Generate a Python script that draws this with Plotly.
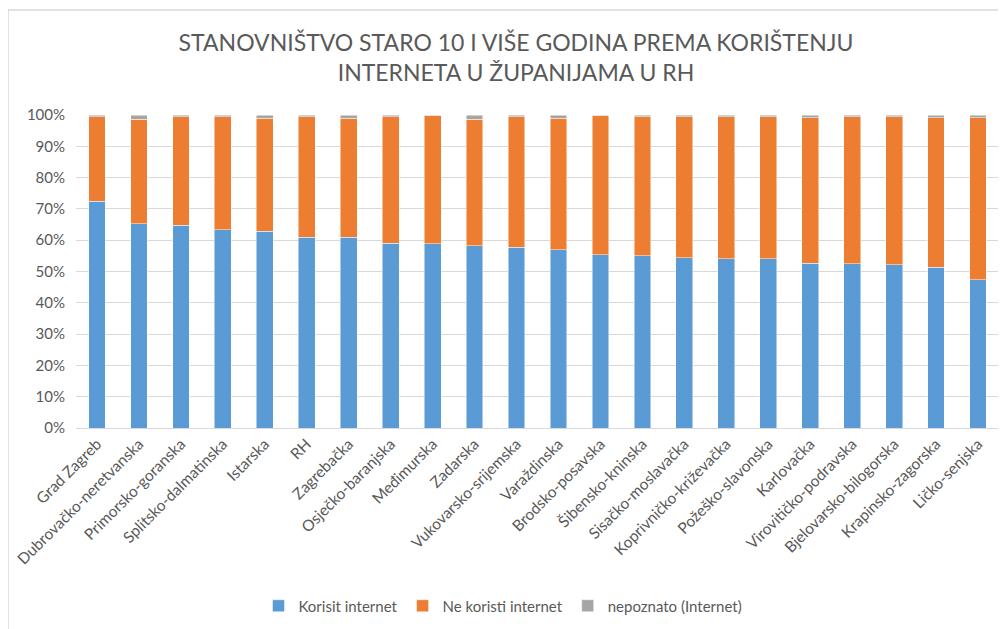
import plotly.graph_objects as go

categories = ["Grad Zagreb", "Dubrovačko-neretvanska", "Primorsko-goranska", "Splitsko-dalmatinska",
              "Istarska", "RH", "Zagrebačka", "Osječko-baranjska", "Međimurska", "Zadarska",
              "Vukovarsko-srijemska", "Varaždinska", "Brodsko-posavska", "Šibensko-kninska",
              "Sisačko-moslavačka", "Koprivničko-križevačka", "Požeško-slavonska", "Karlovačka",
              "Virovitičko-podravska", "Bjelovarsko-bilogorska", "Krapinsko-zagorska", "Ličko-senjska"]

korisi = [72.5, 65.2, 64.8, 63.4, 62.9, 60.9, 60.9, 59.1, 58.9, 58.3,
          57.7, 56.9, 55.3, 55.1, 54.4, 54.1, 54.1, 52.6, 52.4, 52.1, 51.4, 47.4]
nepoznato = [0.6, 1.3, 0.6, 0.5, 1.0, 0.6, 1.0, 0.5, 0.2, 1.3,
             0.6, 1.0, 0.2, 0.5, 0.5, 0.5, 0.5, 0.9, 0.5, 0.5, 0.8, 0.9]
ne_koristi = [round(100 - k - n, 1) for k, n in zip(korisi, nepoznato)]

series = [
    ("Korisit internet", korisi, "#5B9BD5"),
    ("Ne koristi internet", ne_koristi, "#ED7D31"),
    ("nepoznato (Internet)", nepoznato, "#A5A5A5"),
]

FONT = "Lato, 'Open Sans', sans-serif"
GRAY = "#595959"

fig = go.Figure()
for name, vals, color in series:
    fig.add_trace(go.Bar(
        x=categories, y=[v / 100 for v in vals], name=name,
        marker=dict(color=color, line=dict(color="rgba(255,255,255,0.6)", width=0.8)),
    ))

# page body has an 8px margin, so figure coords = page coords - 8
OFF = 8
W, H = 1006 - OFF, 629 - OFF
ml, mr = 76 - OFF, 7
mt = 115 - OFF
mb = H - (428 - OFF)
pw, ph = W - ml - mr, H - mt - mb

def px_x(p):
    return (p - OFF - ml) / pw

def px_y(p):
    return 1 - (p - OFF - mt) / ph

fig.update_layout(
    width=W, height=H,
    barmode="stack", bargap=0.6,
    paper_bgcolor="white", plot_bgcolor="white",
    margin=dict(l=ml, r=mr, t=mt, b=mb, pad=0, autoexpand=False),
    font=dict(family=FONT, color=GRAY, size=15),
    title=dict(text="STANOVNIŠTVO STARO 10 I VIŠE GODINA PREMA KORIŠTENJU<br>INTERNETA U ŽUPANIJAMA U RH",
               x=0.509, xanchor="center", y=0.93, yanchor="top",
               font=dict(family=FONT, size=23, color=GRAY)),
    legend=dict(orientation="h", x=px_x(503), xanchor="center", y=px_y(606), yanchor="middle",
                font=dict(family=FONT, size=15, color=GRAY), itemwidth=30,
                traceorder="normal", itemclick=False),
    xaxis=dict(tickangle=-45, showgrid=False, showline=True, linecolor="#D9D9D9", linewidth=1,
               tickfont=dict(family=FONT, size=15.5, color=GRAY), ticks=""),
    yaxis=dict(range=[0, 1], tickformat=".0%", dtick=0.1, showgrid=True, gridcolor="#D9D9D9",
               gridwidth=1, zeroline=False, showline=False, ticks="",
               tickfont=dict(family=FONT, size=15, color=GRAY), ticklabelstandoff=10),
    shapes=[dict(type="rect", xref="paper", yref="paper",
                 x0=px_x(8), x1=px_x(1020), y0=px_y(10), y1=px_y(650),
                 line=dict(color="#D9D9D9", width=1.5), fillcolor="rgba(0,0,0,0)", layer="below")],
)

fig.write_html("out.html")
